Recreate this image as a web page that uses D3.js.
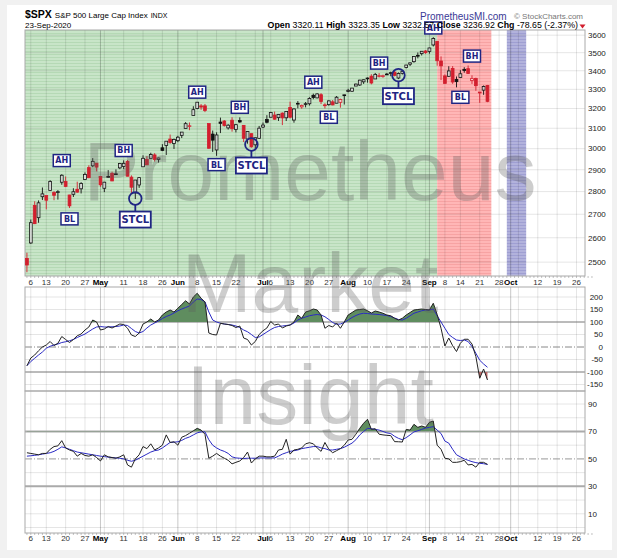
<!DOCTYPE html>
<html>
<head>
<meta charset="utf-8">
<script src="https://cdn.jsdelivr.net/npm/d3@7"></script>
<style>
  body { margin: 0; background: #f1f1f1; }
  svg { display: block; font-family: "Liberation Sans", Arial, sans-serif; }
</style>
</head>
<body>
<svg id="chart" width="617" height="558"></svg>
<script>
// Select the SVG canvas
const svg = d3.select("#chart");

// ---- data ----
const prevClose = 2526.90;  // close of 2020-04-02, colours the first candle
// date, open, high, low, close
const ohlc = [
  ["2020-04-03", 2514.92, 2538.18, 2459.96, 2488.65],
  ["2020-04-06", 2578.28, 2676.85, 2574.57, 2663.68],
  ["2020-04-07", 2738.65, 2756.89, 2657.67, 2659.41],
  ["2020-04-08", 2685.00, 2760.75, 2663.30, 2749.98],
  ["2020-04-09", 2776.99, 2818.57, 2762.36, 2789.82],
  ["2020-04-13", 2782.46, 2782.46, 2721.17, 2761.63],
  ["2020-04-14", 2805.10, 2851.85, 2805.10, 2846.06],
  ["2020-04-15", 2795.64, 2801.88, 2761.54, 2783.36],
  ["2020-04-16", 2799.34, 2806.51, 2764.32, 2799.55],
  ["2020-04-17", 2842.43, 2879.22, 2830.88, 2874.56],
  ["2020-04-20", 2845.62, 2868.98, 2820.43, 2823.16],
  ["2020-04-21", 2784.81, 2785.54, 2727.10, 2736.56],
  ["2020-04-22", 2787.89, 2815.10, 2775.95, 2799.31],
  ["2020-04-23", 2810.42, 2844.90, 2794.26, 2797.80],
  ["2020-04-24", 2812.64, 2842.71, 2791.76, 2836.74],
  ["2020-04-27", 2854.65, 2887.72, 2852.89, 2878.48],
  ["2020-04-28", 2909.96, 2921.15, 2860.71, 2863.39],
  ["2020-04-29", 2918.46, 2954.86, 2912.16, 2939.51],
  ["2020-04-30", 2930.91, 2930.91, 2892.47, 2912.43],
  ["2020-05-01", 2869.09, 2869.09, 2821.61, 2830.71],
  ["2020-05-04", 2815.01, 2844.24, 2797.85, 2842.74],
  ["2020-05-05", 2868.88, 2898.23, 2863.55, 2868.44],
  ["2020-05-06", 2883.14, 2891.11, 2847.65, 2848.42],
  ["2020-05-07", 2878.26, 2901.92, 2876.48, 2881.19],
  ["2020-05-08", 2908.83, 2932.16, 2902.88, 2929.80],
  ["2020-05-11", 2915.46, 2944.25, 2903.44, 2930.19],
  ["2020-05-12", 2939.50, 2945.82, 2869.59, 2870.12],
  ["2020-05-13", 2865.86, 2874.14, 2793.15, 2820.00],
  ["2020-05-14", 2794.54, 2852.80, 2766.64, 2852.50],
  ["2020-05-15", 2829.95, 2865.01, 2816.78, 2863.70],
  ["2020-05-18", 2913.86, 2968.09, 2913.86, 2953.91],
  ["2020-05-19", 2948.59, 2964.21, 2922.35, 2922.94],
  ["2020-05-20", 2953.63, 2980.29, 2953.63, 2971.61],
  ["2020-05-21", 2969.95, 2978.50, 2938.57, 2948.51],
  ["2020-05-22", 2948.05, 2956.76, 2933.59, 2955.45],
  ["2020-05-26", 3004.08, 3021.72, 2988.17, 2991.77],
  ["2020-05-27", 3015.65, 3036.25, 2969.75, 3036.13],
  ["2020-05-28", 3046.61, 3068.67, 3023.40, 3029.73],
  ["2020-05-29", 3025.17, 3049.17, 2998.61, 3044.31],
  ["2020-06-01", 3038.78, 3062.18, 3031.54, 3055.73],
  ["2020-06-02", 3064.78, 3081.07, 3051.64, 3080.82],
  ["2020-06-03", 3098.90, 3130.94, 3098.90, 3122.87],
  ["2020-06-04", 3111.56, 3128.91, 3090.41, 3112.35],
  ["2020-06-05", 3163.84, 3211.72, 3163.84, 3193.93],
  ["2020-06-08", 3199.92, 3233.13, 3196.00, 3232.39],
  ["2020-06-09", 3213.32, 3222.71, 3193.11, 3207.18],
  ["2020-06-10", 3213.42, 3223.27, 3181.49, 3190.14],
  ["2020-06-11", 3123.53, 3123.53, 2999.49, 3002.10],
  ["2020-06-12", 3071.04, 3088.42, 2984.47, 3041.31],
  ["2020-06-15", 2993.76, 3079.76, 2965.66, 3066.59],
  ["2020-06-16", 3131.00, 3153.45, 3076.06, 3124.74],
  ["2020-06-17", 3136.13, 3141.16, 3108.03, 3113.49],
  ["2020-06-18", 3101.64, 3120.00, 3093.51, 3115.34],
  ["2020-06-19", 3140.29, 3155.53, 3083.11, 3097.74],
  ["2020-06-22", 3094.42, 3120.92, 3079.39, 3117.86],
  ["2020-06-23", 3138.70, 3154.90, 3127.12, 3131.29],
  ["2020-06-24", 3114.40, 3115.01, 3032.13, 3050.33],
  ["2020-06-25", 3046.60, 3086.25, 3024.01, 3083.76],
  ["2020-06-26", 3073.20, 3073.73, 3004.63, 3009.05],
  ["2020-06-29", 3018.59, 3053.89, 2999.74, 3053.24],
  ["2020-06-30", 3050.20, 3111.51, 3047.83, 3100.29],
  ["2020-07-01", 3105.92, 3128.44, 3101.17, 3115.86],
  ["2020-07-02", 3143.64, 3165.81, 3124.52, 3130.01],
  ["2020-07-06", 3155.29, 3182.59, 3155.29, 3179.72],
  ["2020-07-07", 3166.44, 3184.15, 3142.93, 3145.32],
  ["2020-07-08", 3153.07, 3171.80, 3136.53, 3169.94],
  ["2020-07-09", 3176.17, 3179.78, 3115.70, 3152.05],
  ["2020-07-10", 3152.47, 3186.82, 3136.22, 3185.04],
  ["2020-07-13", 3205.08, 3235.32, 3149.43, 3155.22],
  ["2020-07-14", 3141.11, 3200.95, 3127.66, 3197.52],
  ["2020-07-15", 3225.98, 3238.28, 3200.76, 3226.56],
  ["2020-07-16", 3208.36, 3220.39, 3198.59, 3215.57],
  ["2020-07-17", 3224.21, 3233.52, 3205.65, 3224.73],
  ["2020-07-20", 3224.29, 3258.61, 3215.16, 3251.84],
  ["2020-07-21", 3268.52, 3277.29, 3247.77, 3257.30],
  ["2020-07-22", 3254.86, 3279.32, 3253.10, 3276.02],
  ["2020-07-23", 3271.64, 3279.99, 3222.66, 3235.66],
  ["2020-07-24", 3218.58, 3227.26, 3200.05, 3215.63],
  ["2020-07-27", 3219.84, 3241.43, 3214.25, 3239.41],
  ["2020-07-28", 3234.27, 3243.72, 3216.17, 3218.44],
  ["2020-07-29", 3227.22, 3264.74, 3227.22, 3258.44],
  ["2020-07-30", 3231.76, 3250.92, 3204.13, 3246.22],
  ["2020-07-31", 3270.45, 3272.17, 3220.26, 3271.12],
  ["2020-08-03", 3288.26, 3302.73, 3284.53, 3294.61],
  ["2020-08-04", 3289.92, 3306.84, 3286.37, 3306.51],
  ["2020-08-05", 3317.37, 3330.77, 3317.37, 3327.77],
  ["2020-08-06", 3323.17, 3351.03, 3318.14, 3349.16],
  ["2020-08-07", 3340.05, 3352.54, 3328.72, 3351.28],
  ["2020-08-10", 3356.04, 3363.29, 3335.44, 3360.47],
  ["2020-08-11", 3370.34, 3381.01, 3326.44, 3333.69],
  ["2020-08-12", 3355.46, 3387.89, 3355.46, 3380.35],
  ["2020-08-13", 3372.95, 3387.24, 3363.35, 3373.43],
  ["2020-08-14", 3368.66, 3378.51, 3361.64, 3372.85],
  ["2020-08-17", 3380.86, 3387.59, 3379.22, 3381.99],
  ["2020-08-18", 3387.04, 3395.06, 3370.15, 3389.78],
  ["2020-08-19", 3392.51, 3399.54, 3369.66, 3374.85],
  ["2020-08-20", 3360.48, 3390.80, 3354.69, 3385.51],
  ["2020-08-21", 3386.01, 3399.96, 3379.31, 3397.16],
  ["2020-08-24", 3418.09, 3432.09, 3413.13, 3431.28],
  ["2020-08-25", 3435.95, 3444.21, 3425.84, 3443.62],
  ["2020-08-26", 3449.97, 3481.07, 3444.15, 3478.73],
  ["2020-08-27", 3485.14, 3501.38, 3468.35, 3484.55],
  ["2020-08-28", 3494.69, 3509.23, 3484.32, 3508.01],
  ["2020-08-31", 3509.73, 3514.77, 3493.25, 3500.31],
  ["2020-09-01", 3507.44, 3528.03, 3494.60, 3526.65],
  ["2020-09-02", 3543.76, 3588.11, 3535.23, 3580.84],
  ["2020-09-03", 3564.74, 3564.85, 3427.41, 3455.06],
  ["2020-09-04", 3453.60, 3479.15, 3349.63, 3426.96],
  ["2020-09-08", 3371.88, 3379.97, 3329.27, 3331.84],
  ["2020-09-09", 3369.82, 3424.77, 3366.84, 3398.96],
  ["2020-09-10", 3412.56, 3425.55, 3329.25, 3339.19],
  ["2020-09-11", 3352.70, 3368.95, 3310.47, 3340.97],
  ["2020-09-14", 3363.56, 3402.93, 3363.56, 3383.54],
  ["2020-09-15", 3407.73, 3419.48, 3389.25, 3401.20],
  ["2020-09-16", 3411.23, 3428.92, 3384.45, 3385.49],
  ["2020-09-17", 3346.86, 3375.17, 3328.82, 3357.01],
  ["2020-09-18", 3357.38, 3362.27, 3292.40, 3319.47],
  ["2020-09-21", 3285.57, 3285.57, 3229.10, 3281.06],
  ["2020-09-22", 3295.75, 3320.31, 3270.95, 3315.57],
  ["2020-09-23", 3320.11, 3323.35, 3232.57, 3236.92]
];

// empty trading days to the right of the last bar
const futureDates = [
  "2020-09-24", "2020-09-25", "2020-09-28", "2020-09-29", "2020-09-30",
  "2020-10-01", "2020-10-02", "2020-10-05", "2020-10-06", "2020-10-07",
  "2020-10-08", "2020-10-09", "2020-10-12", "2020-10-13", "2020-10-14",
  "2020-10-15", "2020-10-16", "2020-10-19", "2020-10-20", "2020-10-21",
  "2020-10-22", "2020-10-23", "2020-10-26", "2020-10-27", "2020-10-28",
  "2020-10-29", "2020-10-30"
];

// CCI (black) and its average (blue), one value per bar
const cci = [
  -75, -44, -32, -15, 0, 8, 22, 6, 15, 42,
  30, 18, 30, 45, 52, 68, 80, 108, 100, 68,
  72, 82, 76, 84, 92, 90, 75, 48, 42, 56,
  92, 100, 112, 100, 108, 128, 140, 148, 140, 155,
  170, 185, 172, 200, 215, 195, 180, 56, 50, 48,
  95, 92, 90, 86, 78, 84, 36, 30, 8, 22,
  50, 65, 76, 102, 88, 92, 76, 84, 88, 100,
  128, 115, 140, 145, 152, 148, 128, 75, 86, 80,
  96, 75, 100, 128, 138, 148, 150, 152, 145, 136,
  144, 140, 135, 128, 125, 115, 108, 115, 128, 138,
  148, 150, 152, 150, 148, 175, 130, 75, 4, 36,
  5, -18, 15, 31, 31, 12, -38, -125, -88, -132
];
const cciAvg = [
  -75, -58, -45, -32, -20, -5, 3, 8, 12, 18,
  21, 25, 30, 38, 45, 52, 62, 72, 80, 82,
  80, 80, 81, 82, 84, 88, 86, 74, 62, 56,
  62, 76, 88, 96, 104, 114, 122, 128, 136, 145,
  152, 158, 164, 180, 192, 190, 181, 140, 108, 100,
  95, 92, 90, 88, 84, 78, 68, 61, 50, 38,
  40, 50, 60, 70, 78, 82, 84, 86, 88, 96,
  108, 115, 120, 125, 128, 130, 128, 121, 110, 98,
  91, 92, 98, 108, 118, 126, 132, 135, 134, 132,
  131, 130, 128, 126, 122, 116, 110, 108, 115, 125,
  135, 140, 145, 148, 148, 152, 125, 100, 75, 50,
  38, 28, 26, 28, 22, 2, -25, -53, -68, -81
];

// RSI (black) and its average (blue)
const rsi = [
  54.5, 54, 53.5, 53, 54, 54, 57, 59, 59.5, 63.3,
  58, 56.5, 55.5, 52, 54, 52.5, 52, 53, 51, 48.5,
  53, 51.5, 51, 50.5, 51.5, 53, 45.6, 44, 50, 53,
  59, 57.5, 61, 56.5, 58, 60, 67.5, 62, 62.5, 60,
  65.8, 67, 68.7, 70.5, 72.3, 71, 68, 50.5, 52, 54,
  52, 50.5, 49, 46.4, 47.5, 48.5, 51, 55, 47, 50,
  52, 52, 51.5, 51.5, 52, 56.5, 57, 64.3, 53.5, 56.5,
  57, 58, 61, 61.8, 61, 58, 55.5, 62, 57, 54.5,
  56, 57.5, 60, 63.8, 64.3, 68, 72.3, 76, 78.9, 71.5,
  72, 68, 67.5, 67.2, 67, 62.6, 62.5, 62.3, 71.5, 71,
  75.2, 73, 74, 73, 76.7, 77.6, 60, 57, 50.5, 50,
  47.5, 47.5, 48, 49, 45.6, 46, 44, 47.5, 47.5, 46
];
const rsiAvg = [
  52, 52.3, 52.6, 53, 53.5, 54, 54.5, 55.5, 57, 58.8,
  58, 57, 56, 55, 54.5, 54, 53.5, 53, 52.5, 52,
  51.7, 51.3, 51, 50.7, 50.5, 50, 49, 48.3, 49, 50.5,
  52, 53.5, 55, 56, 56.5, 58, 60, 62, 62.2, 62.5,
  63.5, 65, 66, 67.5, 69, 69.7, 69.7, 64, 60, 58,
  56.5, 55.5, 54, 51.5, 50.7, 50.5, 50.3, 50.5, 50.5, 50.5,
  50.7, 50.7, 50.7, 50.7, 50.7, 52, 53.5, 54.5, 55.5, 56,
  56.5, 57.5, 58, 58.5, 59, 59, 58, 57.5, 56.5, 56.5,
  57, 57.5, 58.5, 60, 61.5, 64, 67.5, 70, 72.3, 72,
  71.5, 71, 70, 69, 68.5, 66.5, 65, 64, 65.5, 67.5,
  69.7, 70.5, 71.5, 72.5, 73, 73.5, 71, 68.5, 63, 61.5,
  57, 53, 51.5, 50, 49, 48, 47.3, 46.8, 46.5, 46
];

// tick labels
const priceTicks = [2500, 2600, 2700, 2800, 2900, 3000, 3100, 3200, 3300, 3400, 3500, 3600];
const cciTicks = [200, 150, 100, 50, 0, -50, -100, -150];
const cciGrid = [200, 150, 50, -50, -150];
const rsiTicks = [90, 70, 50, 30, 10];
const rsiGrid = [90, 80, 60, 40, 20, 10, 0];
const dateTicks = [
  ["2020-04-06", "6"], ["2020-04-13", "13"], ["2020-04-20", "20"], ["2020-04-27", "27"],
  ["2020-05-01", "May"], ["2020-05-11", "11"], ["2020-05-18", "18"], ["2020-05-26", "26"],
  ["2020-06-01", "Jun"], ["2020-06-08", "8"], ["2020-06-15", "15"], ["2020-06-22", "22"],
  ["2020-07-01", "Jul"], ["2020-07-06", "6"], ["2020-07-13", "13"], ["2020-07-20", "20"],
  ["2020-07-27", "27"], ["2020-08-03", "Aug"], ["2020-08-10", "10"], ["2020-08-17", "17"],
  ["2020-08-24", "24"], ["2020-09-01", "Sep"], ["2020-09-08", "8"], ["2020-09-14", "14"],
  ["2020-09-21", "21"], ["2020-09-28", "28"], ["2020-10-01", "Oct"], ["2020-10-12", "12"],
  ["2020-10-19", "19"], ["2020-10-26", "26"]
];

// shaded date ranges behind the price bars
const shades = [
  ["2020-04-03", "2020-09-02", "green"],
  ["2020-09-03", "2020-09-23", "red"],
  ["2020-09-30", "2020-10-06", "blue"]
];

// annotations: label, date, price level
const boxLabels = [
  ["AH", "2020-04-17", 2943], ["BL", "2020-04-21", 2680], ["BH", "2020-05-11", 2991],
  ["AH", "2020-06-08", 3285], ["BL", "2020-06-15", 2924], ["BH", "2020-06-23", 3206],
  ["AH", "2020-07-21", 3338], ["BL", "2020-07-27", 3155], ["BH", "2020-08-13", 3442],
  ["AH", "2020-09-02", 3642], ["BH", "2020-09-17", 3481], ["BL", "2020-09-14", 3258]
];
const stclMarks = [["2020-05-14", 2769], ["2020-06-26", 3020], ["2020-08-20", 3376]];

// ---- layout ----
const left = 25, right = 585;
const pricePanel = { top: 30, bottom: 276 };
const cciPanel = { top: 287, bottom: 391 };
const rsiPanel = { top: 391, bottom: 533 };
const navy = "#1f2583";
const redBar = "#d21f2e";
const labelFont = '"DejaVu Sans", Verdana, sans-serif';

const allDates = ohlc.map(d => d[0]).concat(futureDates);
const idxOf = new Map(allDates.map((d, i) => [d, i]));
const parse = d3.timeParse("%Y-%m-%d");

// x is bar index (trading days), y scales per panel
const x = d3.scaleLinear().domain([-0.5, 144.2]).range([left, right]);
const yP = d3.scaleLog().domain([2445, 3630]).range([pricePanel.bottom, pricePanel.top]);
const yC = d3.scaleLinear().domain([-176, 240]).range([cciPanel.bottom, cciPanel.top]);
const yR = d3.scaleLinear().domain([-4, 99.5]).range([rsiPanel.bottom, rsiPanel.top]);

// week and month starts for vertical grid
const weekIdx = [], monthIdx = [];
allDates.forEach((d, i) => {
  if (i === 0) return;
  const a = parse(allDates[i - 1]), b = parse(d);
  if (b.getMonth() !== a.getMonth()) monthIdx.push(i);
  else if (b.getDay() < a.getDay()) weekIdx.push(i);
});

// card background
svg.append("rect").attr("x", 7).attr("y", 5).attr("width", 605).attr("height", 545).attr("fill", "#fff");

// striped fills for the shaded ranges
const defs = svg.append("defs");
const shadeColors = {
  green: ["#c8e5c8", "#b5d9b5"],
  red: ["#ffb6b6", "#f7a3a3"],
  blue: ["#b2b2dc", "#9f9fd2"]
};
Object.entries(shadeColors).forEach(([k, c]) => {
  const p = defs.append("pattern").attr("id", "shade-" + k)
    .attr("patternUnits", "userSpaceOnUse").attr("width", 6).attr("height", 3);
  p.append("rect").attr("width", 6).attr("height", 3).attr("fill", c[0]);
  p.append("rect").attr("width", 6).attr("height", 1).attr("fill", c[1]);
});

function clipRect(id, y0, y1) {
  defs.append("clipPath").attr("id", id).append("rect")
    .attr("x", left).attr("y", y0).attr("width", right - left).attr("height", y1 - y0);
}
clipRect("cci-up", cciPanel.top, yC(100));
clipRect("cci-dn", yC(-100), cciPanel.bottom);
clipRect("rsi-up", rsiPanel.top, yR(70));

// Function to draw the vertical week/month lines of a panel
function vGrid(g, top, bottom) {
  g.selectAll(null).data(weekIdx).join("line")
    .attr("x1", i => x(i)).attr("x2", i => x(i)).attr("y1", top).attr("y2", bottom)
    .attr("stroke", "rgba(0,0,0,0.1)");
  g.selectAll(null).data(monthIdx).join("line")
    .attr("x1", i => x(i)).attr("x2", i => x(i)).attr("y1", top).attr("y2", bottom)
    .attr("stroke", "rgba(0,0,0,0.22)");
}

// Function to draw horizontal grid lines
function hGrid(g, vals, y, stroke) {
  return g.selectAll(null).data(vals).join("line")
    .attr("x1", left).attr("x2", right).attr("y1", d => y(d)).attr("y2", d => y(d))
    .attr("stroke", stroke);
}

// ---- price panel ----
const pg = svg.append("g");
const shadeX0 = d => idxOf.get(d[0]) === 0 ? left : x(idxOf.get(d[0]));
pg.selectAll(null).data(shades).join("rect")
  .attr("x", shadeX0)
  .attr("width", d => x(idxOf.get(d[1]) + 1) - shadeX0(d))
  .attr("y", pricePanel.top).attr("height", pricePanel.bottom - pricePanel.top)
  .attr("fill", d => `url(#shade-${d[2]})`);
vGrid(pg, pricePanel.top, pricePanel.bottom);
hGrid(pg, priceTicks, yP, "rgba(0,0,0,0.1)");
pg.append("rect").attr("x", left).attr("y", pricePanel.top)
  .attr("width", right - left).attr("height", pricePanel.bottom - pricePanel.top)
  .attr("fill", "none").attr("stroke", "#aaa");

const candles = ohlc.map((d, i) => ({
  i, o: d[1], h: d[2], l: d[3], c: d[4], prev: i ? ohlc[i - 1][4] : prevClose
}));
const barColor = d => d.c >= d.prev ? "#111" : redBar;
pg.selectAll(null).data(candles).join("line")
  .attr("x1", d => x(d.i)).attr("x2", d => x(d.i))
  .attr("y1", d => yP(d.h)).attr("y2", d => yP(d.l))
  .attr("stroke", barColor).attr("stroke-width", 0.9);
pg.selectAll(null).data(candles).join("rect")
  .attr("x", d => x(d.i) - 1.4).attr("width", 2.8)
  .attr("y", d => yP(Math.max(d.o, d.c)))
  .attr("height", d => Math.max(0.8, Math.abs(yP(d.o) - yP(d.c))))
  .attr("fill", d => d.c > d.o ? "rgba(255,255,255,0.75)" : barColor(d))
  .attr("stroke", barColor).attr("stroke-width", 0.8);

// ---- CCI panel ----
const cg = svg.append("g");
vGrid(cg, cciPanel.top, cciPanel.bottom);
hGrid(cg, cciGrid, yC, "rgba(0,0,0,0.1)");
hGrid(cg, [100, -100], yC, "#777");
cg.append("line").attr("x1", left).attr("x2", right).attr("y1", yC(0)).attr("y2", yC(0))
  .attr("stroke", "#888").attr("stroke-dasharray", "7,2,1,2");
const cciArea = base => d3.area().x((d, i) => x(i)).y0(yC(base)).y1(d => yC(d));
cg.append("path").datum(cci).attr("d", cciArea(100)).attr("fill", "#5f8d5f").attr("clip-path", "url(#cci-up)");
cg.append("path").datum(cci).attr("d", cciArea(-100)).attr("fill", "#c06a6a").attr("clip-path", "url(#cci-dn)");
const cciLine = d3.line().x((d, i) => x(i)).y(d => yC(d));
cg.append("path").datum(cciAvg).attr("d", cciLine).attr("fill", "none").attr("stroke", "#2a2ac4").attr("stroke-width", 1);
cg.append("path").datum(cci).attr("d", cciLine).attr("fill", "none").attr("stroke", "#222").attr("stroke-width", 1);

// ---- RSI panel ----
const rg = svg.append("g");
vGrid(rg, rsiPanel.top, rsiPanel.bottom);
hGrid(rg, rsiGrid, yR, "rgba(0,0,0,0.1)");
hGrid(rg, [70, 30], yR, "#aaa").attr("stroke-width", 2);
rg.append("line").attr("x1", left).attr("x2", right).attr("y1", yR(50)).attr("y2", yR(50))
  .attr("stroke", "#999").attr("stroke-dasharray", "7,2,1,2");
rg.append("path").datum(rsi)
  .attr("d", d3.area().x((d, i) => x(i)).y0(yR(70)).y1(d => yR(d)))
  .attr("fill", "#5f8d5f").attr("clip-path", "url(#rsi-up)");
const rsiLine = d3.line().x((d, i) => x(i)).y(d => yR(d));
rg.append("path").datum(rsiAvg).attr("d", rsiLine).attr("fill", "none").attr("stroke", "#2a2ac4").attr("stroke-width", 1);
rg.append("path").datum(rsi).attr("d", rsiLine).attr("fill", "none").attr("stroke", "#222").attr("stroke-width", 1);

[cciPanel, rsiPanel].forEach(p => {
  svg.append("rect").attr("x", left).attr("y", p.top)
    .attr("width", right - left).attr("height", p.bottom - p.top)
    .attr("fill", "none").attr("stroke", "#aaa");
});

// ---- axes ----
const axisFont = 8;
svg.append("g").selectAll(null).data(priceTicks).join("text")
  .attr("x", 588).attr("y", d => yP(d)).attr("dy", "0.35em")
  .attr("font-size", axisFont).attr("fill", "#222").text(d => d);
svg.append("g").selectAll(null).data(cciTicks).join("text")
  .attr("x", 603).attr("y", d => yC(d)).attr("dy", "0.35em").attr("text-anchor", "end")
  .attr("font-size", axisFont).attr("fill", "#222").text(d => d);
svg.append("g").selectAll(null).data(rsiTicks).join("text")
  .attr("x", 588).attr("y", d => yR(d)).attr("dy", "0.35em")
  .attr("font-size", axisFont).attr("fill", "#222").text(d => d);

[[pricePanel.bottom, 285], [rsiPanel.bottom, 541]].forEach(([yb, ty]) => {
  const g = svg.append("g");
  g.selectAll(null).data(allDates.map((d, i) => i)).join("line")
    .attr("x1", i => x(i)).attr("x2", i => x(i)).attr("y1", yb).attr("y2", yb + 2)
    .attr("stroke", "#999").attr("stroke-width", 0.6);
  g.selectAll(null).data(dateTicks).join("text")
    .attr("x", d => x(idxOf.get(d[0]))).attr("y", ty).attr("text-anchor", "middle")
    .attr("font-size", axisFont)
    .attr("font-weight", d => isNaN(+d[1]) ? "bold" : "normal")
    .attr("fill", d => isNaN(+d[1]) ? "#000" : "#333")
    .text(d => d[1]);
});

// ---- watermark ----
svg.append("g").selectAll(null).data(["Prometheus", "Market", "Insight"]).join("text")
  .attr("x", 310).attr("y", (d, i) => 200 + i * 112).attr("text-anchor", "middle")
  .attr("font-size", 84).attr("fill", "#5c5c5c").attr("opacity", 0.3).text(d => d);

// ---- annotations ----
const ag = svg.append("g").attr("font-family", labelFont);
boxLabels.forEach(([lab, date, p]) => {
  const cx = x(idxOf.get(date)), cy = yP(p);
  ag.append("rect").attr("x", cx - 8.5).attr("y", cy - 6).attr("width", 17).attr("height", 12)
    .attr("fill", "#fff").attr("stroke", navy).attr("stroke-width", 1.5);
  ag.append("text").attr("x", cx).attr("y", cy).attr("dy", "0.36em").attr("text-anchor", "middle")
    .attr("font-size", 8).attr("font-weight", "bold").attr("fill", navy).text(lab);
});
stclMarks.forEach(([date, p]) => {
  const cx = x(idxOf.get(date)), cy = yP(p);
  ag.append("circle").attr("cx", cx).attr("cy", cy).attr("r", 6.3)
    .attr("fill", "none").attr("stroke", navy).attr("stroke-width", 1.8);
  ag.append("line").attr("x1", cx).attr("x2", cx).attr("y1", cy + 6.3).attr("y2", cy + 13)
    .attr("stroke", navy).attr("stroke-width", 1.8);
  ag.append("rect").attr("x", cx - 15.5).attr("y", cy + 13).attr("width", 31).attr("height", 16)
    .attr("fill", "#fff").attr("stroke", navy).attr("stroke-width", 1.8);
  ag.append("text").attr("x", cx).attr("y", cy + 21).attr("dy", "0.36em").attr("text-anchor", "middle")
    .attr("font-size", 10).attr("font-weight", "bold").attr("fill", navy).text("STCL");
});

// ---- header ----
const last = ohlc[ohlc.length - 1];
const prev = ohlc[ohlc.length - 2][4];
const chg = last[4] - prev;
const hg = svg.append("g");
const t1 = hg.append("text").attr("x", 25).attr("y", 18);
t1.append("tspan").attr("font-size", 10.5).attr("font-weight", "bold").text("$SPX");
t1.append("tspan").attr("font-size", 8).attr("dx", 3).text("S&P 500 Large Cap Index");
t1.append("tspan").attr("font-size", 7).attr("dx", 3).text("INDX");
hg.append("text").attr("x", 25).attr("y", 28).attr("font-size", 8)
  .text(d3.timeFormat("%d-%b-%Y")(parse(last[0])));

const stats = [["Open", last[1]], ["High", last[2]], ["Low", last[3]], ["Close", last[4]]];
const t2 = hg.append("text").attr("x", 578).attr("y", 28).attr("text-anchor", "end").attr("font-size", 8.8);
stats.forEach(([k, v]) => {
  t2.append("tspan").attr("font-weight", "bold").text(k + " ");
  t2.append("tspan").text(v.toFixed(2) + " ");
});
t2.append("tspan").attr("font-weight", "bold").text("Chg ");
t2.append("tspan").text(`${chg.toFixed(2)} (${(chg / prev * 100).toFixed(2)}%)`);
hg.append("path").attr("d", "M579.5,24.5 L585.5,24.5 L582.5,28.5 Z").attr("fill", redBar);

hg.append("text").attr("x", 420).attr("y", 20).attr("font-size", 10).attr("fill", "#3a3a96")
  .text("PrometheusMI.com");
hg.append("text").attr("x", 514).attr("y", 19).attr("font-size", 8).attr("fill", "#777")
  .text("\u00a9 StockCharts.com");
</script>
</body>
</html>
